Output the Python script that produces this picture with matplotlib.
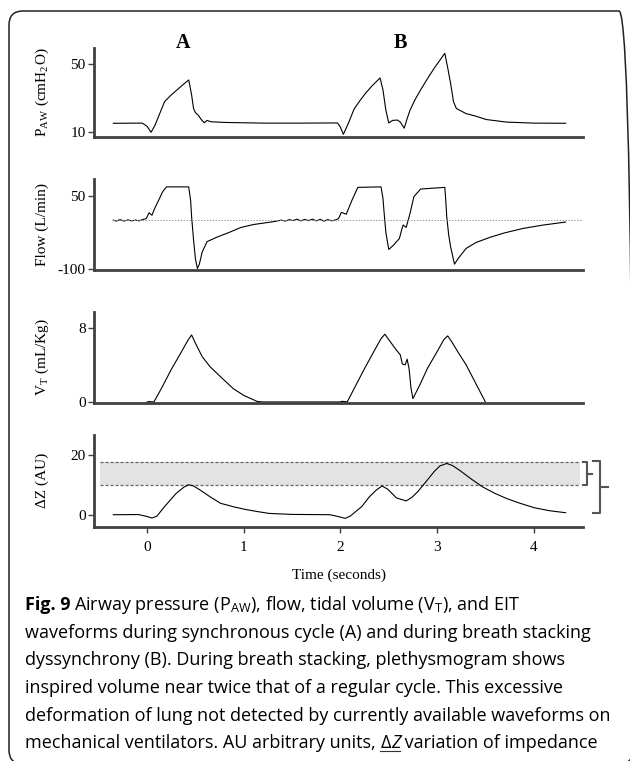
import matplotlib
matplotlib.use("Agg")
import matplotlib.pyplot as plt
from matplotlib.patches import FancyBboxPatch
from matplotlib.lines import Line2D

plt.rcParams['font.family'] = ['Liberation Serif', 'DejaVu Serif']
plt.rcParams['mathtext.fontset'] = 'stix'
plt.rcParams['axes.unicode_minus'] = False

# airway pressure (cmH2O)
paw_t = [-0.35, -0.05, 0.0, 0.04, 0.08, 0.13, 0.18, 0.24, 0.30, 0.36, 0.43, 0.46, 0.48, 0.50,
         0.53, 0.56, 0.59, 0.62, 0.66, 0.8, 1.2, 1.6, 1.97, 2.0, 2.03, 2.08, 2.14, 2.2, 2.26,
         2.33, 2.41, 2.44, 2.47, 2.50, 2.54, 2.59, 2.62, 2.66, 2.69, 2.72, 2.77, 2.83, 2.9,
         2.97, 3.03, 3.08, 3.11, 3.14, 3.17, 3.2, 3.3, 3.4, 3.51, 3.72, 4.0, 4.33]
paw = [15.3, 15.4, 13.5, 10.0, 14, 21, 28, 31.5, 34.5, 37.5, 40.8, 32, 24, 21.5,
       20, 17.5, 15.6, 17, 16.2, 15.8, 15.4, 15.4, 15.5, 13, 8.8, 15, 23.5, 28.5, 33,
       37.5, 42, 35, 23, 15.5, 17, 17.2, 16, 12.4, 18, 23, 29, 35, 41.5,
       47.7, 52.5, 56.5, 48, 38.8, 28, 24, 21, 19.5, 17.5, 16, 15.4, 15.3]

# flow (L/min)
flow_t = [-0.35, -0.32, -0.28, -0.24, -0.2, -0.16, -0.12, -0.08, -0.05, -0.01, 0.02, 0.05,
          0.08, 0.12, 0.16, 0.2, 0.43, 0.45, 0.46, 0.48, 0.50, 0.52, 0.54, 0.57, 0.62, 0.72,
          0.85, 0.97, 1.1, 1.3, 1.39, 1.43, 1.47, 1.51, 1.55, 1.59, 1.63, 1.67, 1.71, 1.75,
          1.79, 1.83, 1.87, 1.91, 1.95, 1.98, 2.01, 2.06, 2.12, 2.18, 2.42, 2.44, 2.45, 2.47,
          2.5, 2.55, 2.61, 2.64, 2.65, 2.68, 2.72, 2.76, 2.83, 3.08, 3.09, 3.1, 3.12, 3.14,
          3.18, 3.22, 3.3, 3.4, 3.55, 3.7, 3.89, 4.1, 4.33]
flow = [0, -2, 1, -2, 0.5, -1.5, 0, -1.5, 1, 3, 15, 10,
        25, 41, 58, 68, 68, 40, 7, -40, -80, -99, -90, -65, -44, -35,
        -25, -15, -9, -3.4, 0, -2, 1, -1, 2, -1.5, 1.5, -1, 2, -1.5,
        1.5, -2, 1, -1.5, 0.5, 3, 16, 12, 41, 67, 68, 45, 20, -25,
        -60, -51, -37.5, -15, -10, -15, 13.6, 48, 63.6, 67, 40, 7, -30, -54.5,
        -90, -78, -58, -46, -35, -26, -17, -10, -4]

# tidal volume (mL/Kg)
vt_t = [0.0, 0.02, 0.05, 0.07, 0.15, 0.25, 0.35, 0.42, 0.46, 0.5, 0.57, 0.65, 0.74, 0.89,
        1.0, 1.14, 1.2, 2.0, 2.01, 2.04, 2.07, 2.15, 2.25, 2.35, 2.42, 2.46, 2.5, 2.57,
        2.62, 2.64, 2.66, 2.67, 2.69, 2.71, 2.73, 2.75, 2.82, 2.9, 3.0, 3.07, 3.11, 3.15,
        3.22, 3.3, 3.4, 3.5]
vt = [0, 0.05, 0, 0, 1.5, 3.5, 5.3, 6.6, 7.2, 6.3, 4.86, 3.8, 2.9, 1.44,
      0.7, 0.05, 0, 0, 0.06, 0.05, 0, 1.6, 3.6, 5.5, 6.8, 7.28, 6.7, 5.7,
      5.05, 4.1, 4.0, 4.0, 4.6, 3.6, 1.5, 0.36, 1.8, 3.6, 5.4, 6.7, 7.1, 6.5,
      5.3, 4.0, 2.0, 0.0]

# EIT impedance variation (AU)
dz_t = [-0.35, -0.09, 0.0, 0.05, 0.1, 0.18, 0.3, 0.38, 0.43, 0.48, 0.55, 0.65, 0.76, 0.9,
        1.01, 1.15, 1.26, 1.5, 1.89, 1.95, 2.05, 2.1, 2.22, 2.3, 2.37, 2.43, 2.49, 2.58,
        2.68, 2.74, 2.8, 2.88, 2.97, 3.03, 3.1, 3.16, 3.23, 3.35, 3.47, 3.6, 3.72, 3.86,
        4.01, 4.17, 4.33]
dz = [0, 0.05, -0.6, -1.1, -0.5, 2.7, 7.1, 9.2, 10, 9.6, 8.2, 6, 3.8, 2.6,
      1.8, 1, 0.44, 0.1, 0, -0.4, -1.2, -0.5, 2.7, 6, 8.2, 9.6, 8.5, 5.6,
      4.6, 5.8, 7.7, 10.8, 14.4, 16.3, 17.1, 16.4, 14.9, 12, 9.3, 7.1, 5.4, 3.8,
      2.3, 1.3, 0.67]

band_lo, band_hi = 9.9, 17.6

W, H = 630, 761
fig = plt.figure(figsize=(W / 100, H / 100), dpi=100)

# rounded frame round figure + caption
fig.patches.append(FancyBboxPatch((9, -3), 624, H - 11 + 3, boxstyle="round,pad=0,rounding_size=14",
                                  transform=None, fill=False, lw=1.1, ec="#222222"))

def rect(top, bottom):
    return [94 / W, 1 - bottom / H, (583 - 94) / W, (bottom - top) / H]

spc = "#404040"
axes = []
panels = [(47.7, 136.7, paw_t, paw, (7.4, 59.8), [10, 50], "P$_\\mathregular{AW}$ (cmH$_\\mathregular{2}$O)"),
          (179.3, 270, flow_t, flow, (-102, 83.5), [-100, 50], "Flow (L/min)"),
          (311.7, 402.7, vt_t, vt, (-0.08, 9.7), [0, 8], "V$_\\mathregular{T}$ (mL/Kg)"),
          (435, 526.7, dz_t, dz, (-4, 26.6), [0, 20], "\u0394Z (AU)")]
for top, bot, t, y, yl, yt, lab in panels:
    ax = fig.add_axes(rect(top, bot))
    ax.plot(t, y, color="black", lw=0.8)
    ax.set_xlim(-0.55, 4.51)
    ax.set_ylim(*yl)
    ax.set_yticks(yt)
    for s in ("top", "right"):
        ax.spines[s].set_visible(False)
    for s in ("left", "bottom"):
        ax.spines[s].set_color(spc)
        ax.spines[s].set_linewidth(2.0)
    ax.tick_params(axis="y", direction="out", length=4, width=1, color=spc, labelsize=11, pad=2)
    ax.tick_params(axis="x", direction="out", length=4, width=1, color=spc, labelsize=11, pad=6)
    ax.text(-0.106, 0.5, lab, transform=ax.transAxes, rotation=90, ha="center", va="center", fontsize=11)
    ax.patch.set_alpha(0)
    axes.append(ax)

for ax in axes[:3]:
    ax.set_xticks([])
ax4 = axes[3]
ax4.set_xticks([0, 1, 2, 3, 4])
ax4.set_xlabel("Time (seconds)", fontsize=11, labelpad=11)

# zero line in flow
axes[1].plot([-0.35, 4.5], [0, 0], color="#999999", lw=0.7, ls=(0, (1.5, 1.5)))

# gray band in EIT panel
ax4.fill_between([-0.49, 4.48], band_lo, band_hi, color="#e3e3e3", lw=0, zorder=0)
for yy in (band_lo, band_hi):
    ax4.plot([-0.49, 4.48], [yy, yy], color="#666666", lw=0.9, ls=(0, (2.5, 1.5)), zorder=1)

# brackets on the right
bc = "#555555"
ax4.plot([4.513, 4.55, 4.55, 4.513], [band_hi, band_hi, band_lo, band_lo], color=bc, lw=1.5, clip_on=False)
ax4.plot([4.55, 4.607], [(band_lo + band_hi) / 2] * 2, color=bc, lw=1.5, clip_on=False)
ax4.plot([4.617, 4.69, 4.69, 4.617], [band_hi + 0.3, band_hi + 0.3, 0.57, 0.57], color=bc, lw=1.5, clip_on=False)
ax4.plot([4.69, 4.77], [9.3, 9.3], color=bc, lw=1.5, clip_on=False)

# A / B labels
fig.text(183 / W, 1 - 48.5 / H, "A", fontsize=14.5, fontweight="bold", ha="center", va="baseline")
fig.text(400 / W, 1 - 48.5 / H, "B", fontsize=14.5, fontweight="bold", ha="center", va="baseline")

# caption
cf = ["Open Sans", "DejaVu Sans"]
cs = 12.95
base = [610, 637.7, 665.4, 693, 720.8, 748.5]
r = fig.canvas.get_renderer()

def put(x, yline, s, **kw):
    t = fig.text(x / W, 1 - yline / H, s, fontsize=cs, family=cf, va="baseline", ha="left", **kw)
    return t.get_window_extent(r).x1

x = put(25, base[0], "Fig. 9", fontweight="bold")
put(x + 4, base[0], "Airway pressure (P$_\\mathregular{AW}$), flow, tidal volume (V$_\\mathregular{T}$), and EIT")
put(25, base[1], "waveforms during synchronous cycle (A) and during breath stacking")
put(25, base[2], "dyssynchrony (B). During breath stacking, plethysmogram shows")
put(25, base[3], "inspired volume near twice that of a regular cycle. This excessive")
put(25, base[4], "deformation of lung not detected by currently available waveforms on")
x = put(25, base[5], "mechanical ventilators. AU arbitrary units, ")
x0 = x
x = put(x, base[5], "\u0394", )
x = put(x, base[5], "Z", style="italic")
fig.add_artist(Line2D([x0, x], [H - base[5] - 2.5] * 2, transform=None, color="#333333", lw=0.8))
put(x, base[5], " variation of impedance")

fig.savefig("out.png", dpi=100)
